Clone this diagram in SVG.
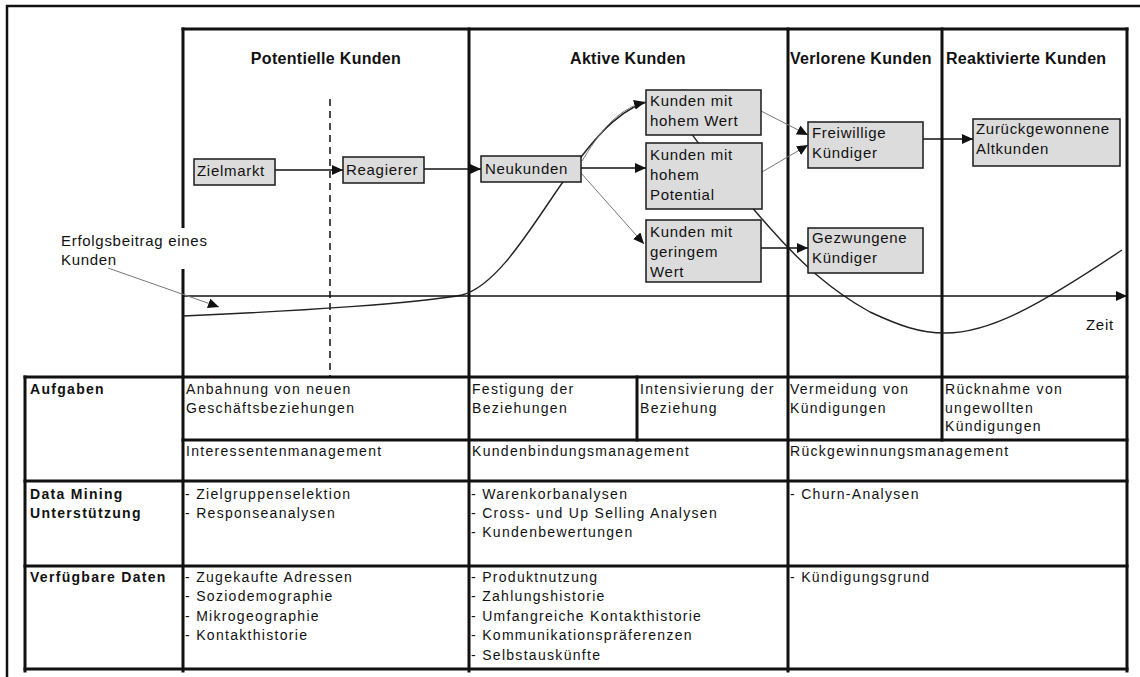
<svg xmlns="http://www.w3.org/2000/svg" width="1140" height="677" viewBox="0 0 1140 677">
  <style>
    text { font-family: "Liberation Sans", Arial, sans-serif; fill: #111; }
    .hdr { font-size: 16px; font-weight: bold; letter-spacing: 0.3px; }
    .node-t { font-size: 15px; letter-spacing: 0.7px; }
    .cell { font-size: 14px; letter-spacing: 1.3px; }
    .rowh { font-size: 14px; font-weight: bold; letter-spacing: 1.3px; }
    .frame { stroke: #111; stroke-width: 3; fill: none; stroke-linecap: square; }
    .box { fill: #dcdcdc; stroke: #1a1a1a; stroke-width: 1.5; }
    .arr { stroke: #111; stroke-width: 1.3; fill: none; marker-end: url(#head); }
    .arr-thin { stroke: #777; stroke-width: 1; fill: none; marker-end: url(#head); }
    .curve { stroke: #222; stroke-width: 1.4; fill: none; }
  </style>
  <defs>
    <marker id="head" markerUnits="userSpaceOnUse" markerWidth="12" markerHeight="10" refX="11" refY="5" orient="auto">
      <path d="M0,0 L11,5 L0,10 z" fill="#111"/>
    </marker>
  </defs>

  <rect width="1140" height="677" fill="#fff"/>

  <!-- outer border -->
  <path d="M7,677 L7,6 L1140,6" stroke="#111" stroke-width="2.5" fill="none"/>

  <!-- phase chart and table grid -->
  <g id="grid" class="frame">
    <path d="M183,29 L1127,29"/>
    <path d="M183,29 L183,671"/>
    <path d="M469,29 L469,671"/>
    <path d="M788,29 L788,671"/>
    <path d="M942,29 L942,440"/>
    <path d="M1127,29 L1127,671"/>
    <path d="M25,377 L1127,377"/>
    <path d="M183,440 L1127,440"/>
    <path d="M25,481 L1127,481"/>
    <path d="M25,566 L1127,566"/>
    <path d="M25,669 L1127,669"/>
    <path d="M25,377 L25,671"/>
    <path d="M637,377 L637,440"/>
  </g>
  <path d="M330,99 L330,377" stroke="#111" stroke-width="1.5" stroke-dasharray="7 5" fill="none"/>

  <!-- phase headers -->
  <g id="headers">
    <text class="hdr" x="326" y="64" text-anchor="middle">Potentielle Kunden</text>
    <text class="hdr" x="628" y="64" text-anchor="middle">Aktive Kunden</text>
    <text class="hdr" x="790" y="64">Verlorene Kunden</text>
    <text class="hdr" x="946" y="64">Reaktivierte Kunden</text>
  </g>

  <!-- contribution curve over time -->
  <path id="profit-curve" class="curve" d="M183,316 C300,311 420,303 462,295 C500,285 535,220 570,172 C600,130 625,105 655,100 C670,98 680,120 700,145 C725,175 745,200 770,228 C800,262 830,290 870,312 C900,326 920,333 945,333 C990,333 1040,305 1122,250"/>

  <!-- curve label -->
  <g id="curve-label">
    <rect x="57" y="228" width="156" height="41" fill="#fff"/>
    <text class="node-t" x="61" y="246">Erfolgsbeitrag eines</text>
    <text class="node-t" x="61" y="265">Kunden</text>
  </g>
  <text class="node-t" x="1086" y="330">Zeit</text>

  <!-- connectors -->
  <g id="connectors">
    <path class="arr" d="M183,296 L1127,296"/>
    <path class="arr-thin" d="M108,268 L219,307"/>
    <path class="arr" d="M275,170 L343,170"/>
    <path class="arr" d="M424,169 L481,169"/>
    <path class="arr" d="M581,168 L646,168"/>
    <path class="arr-thin" d="M582,161 C598,135 615,110 645,102"/>
    <path class="arr-thin" d="M581,173 L644,244"/>
    <path class="arr-thin" d="M761,111 L808,135"/>
    <path class="arr-thin" d="M762,172 L808,145"/>
    <path class="arr" d="M923,139 L973,139"/>
    <path class="arr" d="M761,248 L808,248"/>
  </g>

  <!-- customer states -->
  <g id="zielmarkt">
    <rect class="box" x="194" y="159" width="81" height="26"/>
    <text class="node-t" x="197" y="176">Zielmarkt</text>
  </g>
  <g id="reagierer">
    <rect class="box" x="343" y="157" width="81" height="26"/>
    <text class="node-t" x="346" y="175">Reagierer</text>
  </g>
  <g id="neukunden">
    <rect class="box" x="481" y="156" width="100" height="26"/>
    <text class="node-t" x="485" y="174">Neukunden</text>
  </g>
  <g id="hoher-wert">
    <rect class="box" x="646" y="90" width="115" height="45"/>
    <text class="node-t" x="650" y="106">Kunden mit</text>
    <text class="node-t" x="650" y="126">hohem Wert</text>
  </g>
  <g id="hohes-potential">
    <rect class="box" x="646" y="143" width="116" height="66"/>
    <text class="node-t" x="650" y="160">Kunden mit</text>
    <text class="node-t" x="650" y="180">hohem</text>
    <text class="node-t" x="650" y="200">Potential</text>
  </g>
  <g id="geringer-wert">
    <rect class="box" x="646" y="220" width="115" height="62"/>
    <text class="node-t" x="650" y="237">Kunden mit</text>
    <text class="node-t" x="650" y="257">geringem</text>
    <text class="node-t" x="650" y="277">Wert</text>
  </g>
  <g id="freiwillige">
    <rect class="box" x="808" y="122" width="115" height="46"/>
    <text class="node-t" x="812" y="138">Freiwillige</text>
    <text class="node-t" x="812" y="158">Kündiger</text>
  </g>
  <g id="gezwungene">
    <rect class="box" x="808" y="228" width="115" height="45"/>
    <text class="node-t" x="812" y="243">Gezwungene</text>
    <text class="node-t" x="812" y="263">Kündiger</text>
  </g>
  <g id="zurueckgewonnene">
    <rect class="box" x="973" y="119" width="147" height="47"/>
    <text class="node-t" x="976" y="134">Zurückgewonnene</text>
    <text class="node-t" x="976" y="154">Altkunden</text>
  </g>

  <!-- table contents -->
  <g id="table-text">
    <text class="rowh" x="30" y="394">Aufgaben</text>
    <text class="cell" x="186" y="394">Anbahnung von neuen</text>
    <text class="cell" x="186" y="412.5">Geschäftsbeziehungen</text>
    <text class="cell" x="472" y="394">Festigung der</text>
    <text class="cell" x="472" y="412.5">Beziehungen</text>
    <text class="cell" x="640" y="394">Intensivierung der</text>
    <text class="cell" x="640" y="412.5">Beziehung</text>
    <text class="cell" x="790" y="394">Vermeidung von</text>
    <text class="cell" x="790" y="412.5">Kündigungen</text>
    <text class="cell" x="945" y="394">Rücknahme von</text>
    <text class="cell" x="945" y="412.5">ungewollten</text>
    <text class="cell" x="945" y="431">Kündigungen</text>
    <text class="cell" x="186" y="456">Interessentenmanagement</text>
    <text class="cell" x="472" y="456">Kundenbindungsmanagement</text>
    <text class="cell" x="790" y="456">Rückgewinnungsmanagement</text>

    <text class="rowh" x="30" y="499">Data Mining</text>
    <text class="rowh" x="30" y="518">Unterstützung</text>
    <text class="cell" x="185" y="499">- Zielgruppenselektion</text>
    <text class="cell" x="185" y="518">- Responseanalysen</text>
    <text class="cell" x="471" y="499">- Warenkorbanalysen</text>
    <text class="cell" x="471" y="518">- Cross- und Up Selling Analysen</text>
    <text class="cell" x="471" y="537">- Kundenbewertungen</text>
    <text class="cell" x="790" y="499">- Churn-Analysen</text>

    <text class="rowh" x="30" y="582">Verfügbare Daten</text>
    <text class="cell" x="185" y="582">- Zugekaufte Adressen</text>
    <text class="cell" x="185" y="601.4">- Soziodemographie</text>
    <text class="cell" x="185" y="620.8">- Mikrogeographie</text>
    <text class="cell" x="185" y="640.2">- Kontakthistorie</text>
    <text class="cell" x="471" y="582">- Produktnutzung</text>
    <text class="cell" x="471" y="601.4">- Zahlungshistorie</text>
    <text class="cell" x="471" y="620.8">- Umfangreiche Kontakthistorie</text>
    <text class="cell" x="471" y="640.2">- Kommunikationspräferenzen</text>
    <text class="cell" x="471" y="659.6">- Selbstauskünfte</text>
    <text class="cell" x="790" y="582">- Kündigungsgrund</text>
  </g>
</svg>
